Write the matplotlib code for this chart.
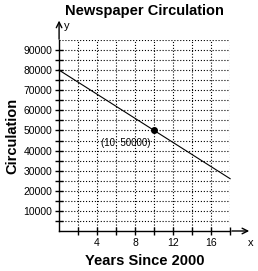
import matplotlib.pyplot as plt
import numpy as np

plt.rcParams['font.family'] = ['Liberation Sans', 'DejaVu Sans']

# data
line_years = [0, 18]
line_circ = [80000, 26000]
point_year = [10]
point_circ = [50000]
point_label = "(10, 50000)"
x_ticks = [2, 4, 6, 8, 10, 12, 14, 16, 18]
x_labels = ["", "4", "", "8", "", "12", "", "16", ""]
y_ticks = [5000 * i for i in range(1, 19)]
y_labels = [str(v) if v % 10000 == 0 else "" for v in y_ticks]

fig = plt.figure(figsize=(2.58, 2.71), dpi=100)
ax = fig.add_axes([0.229, 0.1476, 0.663, 0.705])

ax.set_xlim(0, 18)
ax.set_ylim(0, 95000)

# dotted grid
for x in range(2, 19, 2):
    ax.axvline(x, color='black', ls=':', lw=0.8)
for y in range(5000, 95001, 5000):
    ax.axhline(y, color='black', ls=':', lw=0.8)

ax.plot(line_years, line_circ, color='black', lw=0.8, clip_on=False)
ax.plot(point_year, point_circ, 'o', color='black', ms=4)
ax.text(9.6, 44000, point_label, ha='right', va='center', fontsize=7)

for s in ['top', 'right']:
    ax.spines[s].set_visible(False)
ax.spines['left'].set_linewidth(1.0)
ax.spines['bottom'].set_linewidth(1.0)

# axis arrows
ax.annotate('', xy=(20.3, 0), xytext=(17.9, 0), xycoords='data',
            arrowprops=dict(arrowstyle='->', lw=1.0, color='black'), annotation_clip=False)
ax.annotate('', xy=(0, 106000), xytext=(0, 94000), xycoords='data',
            arrowprops=dict(arrowstyle='->', lw=1.0, color='black'), annotation_clip=False)
ax.text(20.2, -6000, 'x', ha='center', va='center', fontsize=8, clip_on=False)
ax.text(0.5, 102000, 'y', ha='left', va='center', fontsize=8, clip_on=False)

ax.set_xticks(x_ticks)
ax.set_xticklabels(x_labels)
ax.set_yticks(y_ticks)
ax.set_yticklabels(y_labels)
ax.tick_params(direction='inout', length=6, width=1.0, labelsize=7.5, pad=2)

ax.set_title('Newspaper Circulation', fontsize=10.5, fontweight='bold', pad=18, x=0.5)
ax.set_xlabel('Years Since 2000', fontsize=10.5, fontweight='bold', labelpad=4.5)
ax.set_ylabel('Circulation', fontsize=10.5, fontweight='bold', labelpad=3)

fig.savefig('out.png', dpi=100)
